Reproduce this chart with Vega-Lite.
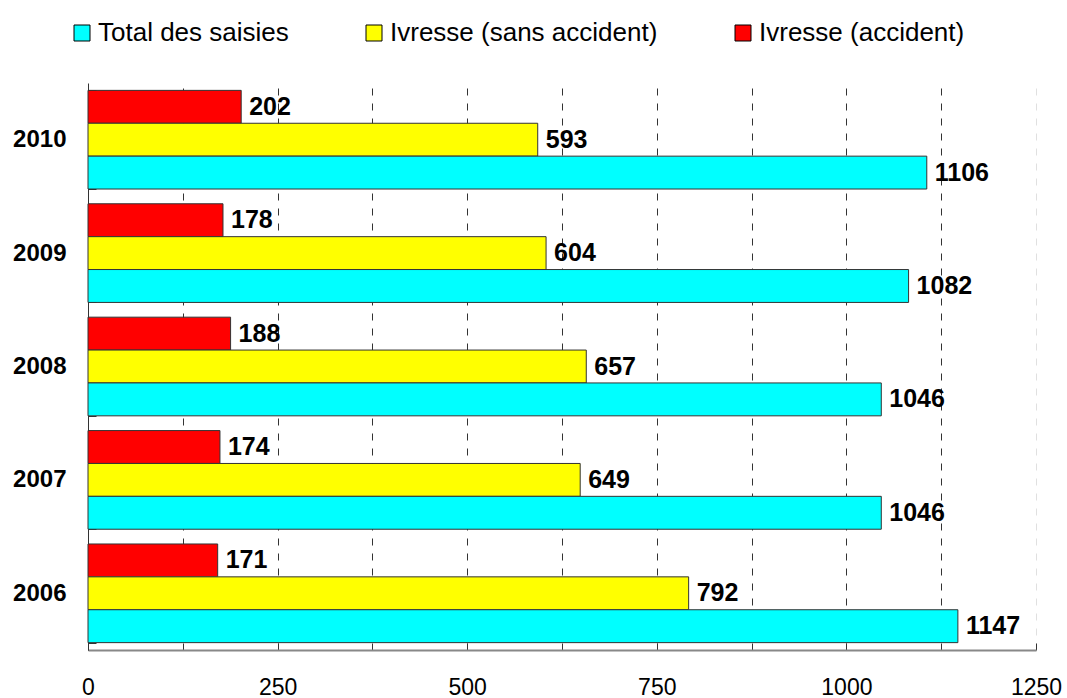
{
  "$schema": "https://vega.github.io/schema/vega-lite/v6.json",
  "width": 948,
  "height": 567,
  "autosize": "none",
  "padding": {"left": 88, "top": 83, "right": 31, "bottom": 48},
  "background": "white",
  "config": {"font": "Liberation Sans", "view": {"stroke": null}},
  "data": {
    "values": [
      {"year": "2010", "serie": "Ivresse (accident)", "value": 202},
      {"year": "2010", "serie": "Ivresse (sans accident)", "value": 593},
      {"year": "2010", "serie": "Total des saisies", "value": 1106},
      {"year": "2009", "serie": "Ivresse (accident)", "value": 178},
      {"year": "2009", "serie": "Ivresse (sans accident)", "value": 604},
      {"year": "2009", "serie": "Total des saisies", "value": 1082},
      {"year": "2008", "serie": "Ivresse (accident)", "value": 188},
      {"year": "2008", "serie": "Ivresse (sans accident)", "value": 657},
      {"year": "2008", "serie": "Total des saisies", "value": 1046},
      {"year": "2007", "serie": "Ivresse (accident)", "value": 174},
      {"year": "2007", "serie": "Ivresse (sans accident)", "value": 649},
      {"year": "2007", "serie": "Total des saisies", "value": 1046},
      {"year": "2006", "serie": "Ivresse (accident)", "value": 171},
      {"year": "2006", "serie": "Ivresse (sans accident)", "value": 792},
      {"year": "2006", "serie": "Total des saisies", "value": 1147}
    ]
  },
  "encoding": {
    "y": {
      "field": "year",
      "type": "nominal",
      "sort": ["2010", "2009", "2008", "2007", "2006"],
      "scale": {"paddingInner": 0.13, "paddingOuter": 0.065},
      "axis": {
        "title": null,
        "labelFontSize": 24,
        "labelFontWeight": "bold",
        "labelColor": "#000",
        "labelPadding": 30,
        "domainColor": "#333",
        "domainWidth": 1,
        "tickColor": "#333",
        "tickSize": -8,
        "tickBand": "extent",
        "grid": false
      }
    },
    "yOffset": {
      "field": "serie",
      "type": "nominal",
      "sort": ["Ivresse (accident)", "Ivresse (sans accident)", "Total des saisies"],
      "scale": {"paddingInner": 0, "paddingOuter": 0}
    },
    "x": {
      "field": "value",
      "type": "quantitative",
      "scale": {"domain": [0, 1250], "nice": false},
      "axis": {
        "title": null,
        "values": [0, 125, 250, 375, 500, 625, 750, 875, 1000, 1125, 1250],
        "format": "d",
        "labelExpr": "datum.value % 250 === 0 ? datum.label : ''",
        "labelFontSize": 23,
        "labelColor": "#000",
        "labelPadding": 33,
        "labelFlush": false,
        "tickSize": -7,
        "tickColor": "#333",
        "tickOpacity": {"condition": {"test": "datum.value % 250 === 0", "value": 1}, "value": 0},
        "domainColor": "#888",
        "domainWidth": 2,
        "grid": true,
        "gridDash": [7, 8],
        "gridWidth": 1,
        "gridColor": {"condition": {"test": "datum.value === 1250", "value": "#e0e0e0"}, "value": "#333"}
      }
    }
  },
  "layer": [
    {
      "mark": {"type": "bar", "stroke": "#333", "strokeWidth": 1},
      "encoding": {
        "color": {
          "field": "serie",
          "type": "nominal",
          "scale": {
            "domain": ["Total des saisies", "Ivresse (sans accident)", "Ivresse (accident)"],
            "range": ["#00FFFF", "#FFFF00", "#FF0000"]
          },
          "legend": {
            "orient": "none",
            "direction": "horizontal",
            "legendX": -19,
            "legendY": -63,
            "title": null,
            "padding": 0,
            "symbolType": "square",
            "symbolSize": 256,
            "symbolStrokeColor": "#000",
            "symbolStrokeWidth": 1,
            "symbolOpacity": 1,
            "labelFontSize": 26,
            "labelColor": "#000",
            "labelOffset": 3,
            "labelLimit": 0,
            "columnPadding": 72
          }
        }
      }
    },
    {
      "mark": {"type": "text", "align": "left", "baseline": "middle", "dx": 8, "fontWeight": "bold", "fontSize": 25, "color": "#000"},
      "encoding": {"text": {"field": "value", "type": "quantitative", "format": "d"}}
    }
  ]
}
